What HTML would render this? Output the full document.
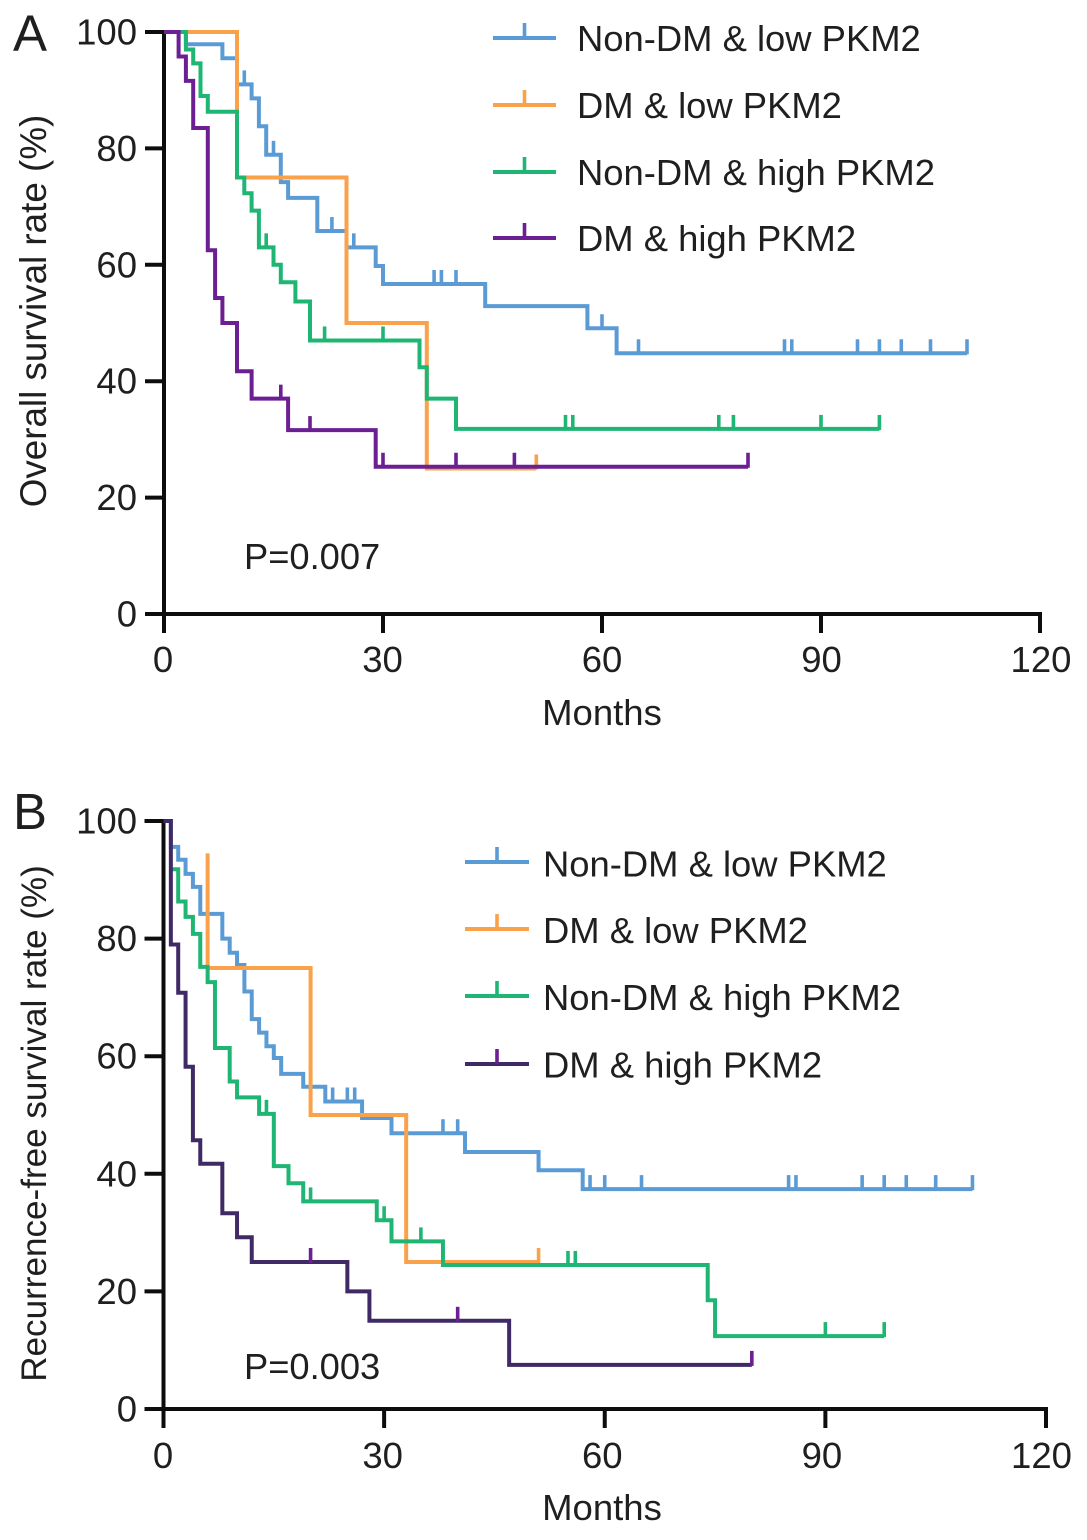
<!DOCTYPE html>
<html lang="en">
<head>
<meta charset="utf-8">
<title>Survival curves by DM and PKM2 status</title>
<style>
html,body{margin:0;padding:0;background:#fff;}
svg{display:block;}
text{font-family:"Liberation Sans",Arial,sans-serif;fill:#1f1f1f;}
</style>
</head>
<body>
<svg id="figure" width="1087" height="1540" viewBox="0 0 1087 1540" xmlns="http://www.w3.org/2000/svg"></svg>
<script>
// Shared tick labels
const xTickLabels = [0, 30, 60, 90, 120];
const yTickLabels = [0, 20, 40, 60, 80, 100];
const seriesNames = ['Non-DM & low PKM2', 'DM & low PKM2', 'Non-DM & high PKM2', 'DM & high PKM2'];

// Panel A: overall survival
const aBlueMonths = [0, 3, 8, 10, 12, 13, 14, 16, 17, 21, 25, 29, 30, 44, 58, 62, 110];
const aBlueRates = [100, 97.9, 95.5, 91, 88.6, 83.8, 78.9, 74.2, 71.5, 65.8, 63, 59.8, 56.7, 52.9, 49.1, 44.8, 44.8];
const aBlueCensored = [11, 15, 23, 26, 37, 38, 40, 60, 65, 85, 86, 95, 98, 101, 105, 110];
const aOrangeMonths = [0, 10, 25, 36, 51];
const aOrangeRates = [100, 75, 50, 25, 25];
const aOrangeCensored = [51];
const aGreenMonths = [0, 3, 4, 5, 6, 10, 11, 12, 13, 15, 16, 18, 20, 35, 36, 40, 98];
const aGreenRates = [100, 97, 94.6, 89, 86.3, 75, 72.3, 69.3, 63, 60, 57, 53.7, 47, 42.4, 37, 31.8, 31.8];
const aGreenCensored = [14, 22, 30, 55, 56, 76, 78, 90, 98];
const aPurpleMonths = [0, 2, 3, 4, 6, 7, 8, 10, 12, 17, 29, 80];
const aPurpleRates = [100, 95.8, 91.6, 83.5, 62.5, 54.3, 50, 41.7, 37, 31.6, 25.3, 25.3];
const aPurpleCensored = [16, 20, 30, 40, 48, 80];

// Panel B: recurrence-free survival
const bBlueMonths = [0, 1, 2, 3, 4, 5, 8, 9, 10, 11, 12, 13, 14, 15, 16, 19, 22, 27, 31, 41, 51, 57, 110];
const bBlueRates = [100, 95.6, 93.4, 91, 88.8, 84.2, 80, 77.6, 75.5, 71, 66.3, 64, 61.7, 59.7, 57, 54.8, 52.3, 49.5, 46.9, 43.7, 40.6, 37.4, 37.4];
const bBlueCensored = [23, 25, 26, 38, 40, 58, 60, 65, 85, 86, 95, 98, 101, 105, 110];
const bOrangeMonths = [6, 6, 20, 33, 51];
const bOrangeRates = [94.5, 75, 50, 25, 25];
const bOrangeCensored = [51];
const bGreenMonths = [1, 2, 3, 4, 5, 6, 7, 9, 10, 13, 15, 17, 19, 29, 31, 38, 74, 75, 98];
const bGreenRates = [91.8, 86.3, 83.7, 80.8, 75.2, 72.6, 61.4, 55.7, 53, 50.2, 41.3, 38.4, 35.3, 32.1, 28.5, 24.5, 18.5, 12.4, 12.4];
const bGreenCensored = [14, 20, 30, 35, 55, 56, 90, 98];
const bPurpleMonths = [0, 1, 2, 3, 4, 5, 8, 10, 12, 25, 28, 47, 80];
const bPurpleRates = [100, 79, 70.8, 58.2, 45.7, 41.7, 33.3, 29.2, 25, 20, 15, 7.5, 7.5];
const bPurpleCensored = [20, 40, 80];

const NS = 'http://www.w3.org/2000/svg';
const figure = document.getElementById('figure');

function make(tag, attrs, parent, content) {
  const node = document.createElementNS(NS, tag);
  for (const key in attrs) node.setAttribute(key, attrs[key]);
  if (content !== undefined) node.textContent = content;
  parent.appendChild(node);
  return node;
}

function drawPanel(cfg) {
  const x = function (month) { return cfg.x0 + (month / 120) * (cfg.x1 - cfg.x0); };
  const y = function (rate) { return cfg.y0 + (rate / 100) * (cfg.y1 - cfg.y0); };
  const labelX = function (month) { return 163 + (month / 120) * (cfg.labelEnd - 163); };

  const panel = make('g', {}, figure);
  
  

  const letter = make('text', { x: cfg.letterX, y: cfg.letterY, 'font-size': 51 }, panel, cfg.letter);
  
  

  const axes = make('g', { stroke: '#0d0d0d', 'stroke-width': 4, fill: 'none', 'stroke-linecap': 'butt' }, panel);
  
  

  const xAxisLine = make('line', { x1: x(0) - 2, x2: x(120) + 2, y1: y(0), y2: y(0) }, axes);
  
  

  const yAxisLine = make('line', { x1: x(0), x2: x(0), y1: y(0), y2: y(100) - 2 }, axes);
  
  

  xTickLabels.forEach(function (value) {
    const mark = make('line', { x1: x(value), x2: x(value), y1: y(0), y2: y(0) + 19 }, axes);
    
    
    const label = make('text', { x: labelX(value), y: cfg.xLabelBase, 'font-size': 36.5, 'text-anchor': 'middle' }, panel, String(value));
    
    
  });

  yTickLabels.forEach(function (value) {
    const mark = make('line', { x1: x(0) - 19, x2: x(0), y1: y(value), y2: y(value) }, axes);
    
    
    const label = make('text', { x: 137, y: y(value) + 12.5, 'font-size': 36.5, 'text-anchor': 'end' }, panel, String(value));
    
    
  });

  const xTitle = make('text', { x: 602, y: cfg.xTitleBase, 'font-size': 36.5, 'text-anchor': 'middle' }, panel, 'Months');
  
  

  const yTitle = make('text', { x: 0, y: 0, 'font-size': cfg.yTitleSize, 'text-anchor': 'middle', transform: 'translate(46 ' + cfg.yTitleMid + ') rotate(-90)' }, panel, cfg.yTitle);
  
  

  const pValue = make('text', { x: 244, y: cfg.pBase, 'font-size': 36.3 }, panel, cfg.pText);
  
  

  cfg.series.forEach(function (s, index) {
    const group = make('g', { fill: 'none', stroke: s.color, 'stroke-width': 4, 'stroke-linecap': 'butt', 'stroke-linejoin': 'miter' }, panel);
    
    

    let d = 'M' + x(s.months[0]) + ' ' + y(s.rates[0]);
    for (let i = 1; i < s.months.length; i++) {
      d += ' H' + x(s.months[i]) + ' V' + y(s.rates[i]);
    }
    const curve = make('path', { d: d }, group);
    
    

    s.censored.forEach(function (month) {
      let rate = s.rates[0];
      for (let i = 0; i < s.months.length; i++) {
        if (s.months[i] <= month) rate = s.rates[i];
      }
      const mark = make('line', { x1: x(month), x2: x(month), y1: y(rate) + 1, y2: y(rate) - 14, stroke: s.tickColor || s.color, 'stroke-width': 3.6 }, group);
      
      
    });

    const ly = cfg.legendY[index];
    const entry = make('g', {}, panel);
    
    
    make('line', { x1: cfg.legendX0, x2: cfg.legendX1, y1: ly, y2: ly, stroke: s.color, 'stroke-width': 4 }, entry);
    const midX = (cfg.legendX0 + cfg.legendX1) / 2;
    make('line', { x1: midX, x2: midX, y1: ly, y2: ly - 15, stroke: s.tickColor || s.color, 'stroke-width': 3.6 }, entry);
    const legendLabel = make('text', { x: cfg.legendTextX, y: cfg.legendBase[index], 'font-size': 36.4 }, entry, seriesNames[index]);
    
    
  });
}

drawPanel({
  id: 'panel-a', letter: 'A', letterX: 13, letterY: 51,
  x0: 164, x1: 1040, y0: 614, y1: 32, labelEnd: 1041,
  xLabelBase: 672, xTitleBase: 725,
  yTitle: 'Overall survival rate (%)', yTitleSize: 36.8, yTitleMid: 311,
  pText: 'P=0.007', pBase: 569,
  legendY: [38, 105, 172, 238], legendBase: [51, 118, 185, 251], legendX0: 493, legendX1: 556, legendTextX: 577,
  series: [
    { key: 'non-dm-low', color: '#5b9bd5', months: aBlueMonths, rates: aBlueRates, censored: aBlueCensored },
    { key: 'dm-low', color: '#f9a24b', months: aOrangeMonths, rates: aOrangeRates, censored: aOrangeCensored },
    { key: 'non-dm-high', color: '#1fb573', months: aGreenMonths, rates: aGreenRates, censored: aGreenCensored },
    { key: 'dm-high', color: '#6b1f92', months: aPurpleMonths, rates: aPurpleRates, censored: aPurpleCensored }
  ]
});

drawPanel({
  id: 'panel-b', letter: 'B', letterX: 13, letterY: 829,
  x0: 163.5, x1: 1046, y0: 1409, y1: 821, labelEnd: 1041.5,
  xLabelBase: 1468, xTitleBase: 1520,
  yTitle: 'Recurrence-free survival rate (%)', yTitleSize: 35.1, yTitleMid: 1123.5,
  pText: 'P=0.003', pBase: 1379,
  legendY: [862, 929, 996, 1064], legendBase: [876.5, 943, 1010, 1077.5], legendX0: 465, legendX1: 529, legendTextX: 543,
  series: [
    { key: 'non-dm-low', color: '#5b9bd5', months: bBlueMonths, rates: bBlueRates, censored: bBlueCensored },
    { key: 'dm-low', color: '#f9a24b', months: bOrangeMonths, rates: bOrangeRates, censored: bOrangeCensored },
    { key: 'non-dm-high', color: '#1fb573', months: bGreenMonths, rates: bGreenRates, censored: bGreenCensored },
    { key: 'dm-high', color: '#3f2a66', tickColor: '#6b1f92', months: bPurpleMonths, rates: bPurpleRates, censored: bPurpleCensored }
  ]
});
</script>
</body>
</html>
